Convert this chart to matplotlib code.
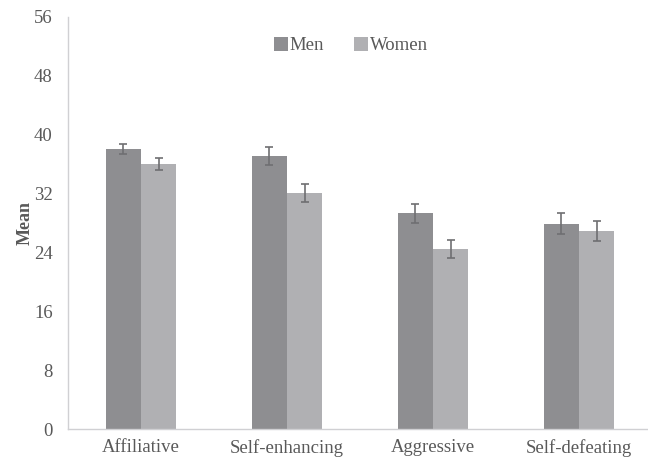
import numpy as np
import matplotlib.pyplot as plt

categories = ["Affiliative", "Self-enhancing", "Aggressive", "Self-defeating"]
men = [38.0, 37.1, 29.3, 27.9]
women = [36.0, 32.1, 24.5, 26.9]
men_err = [0.7, 1.2, 1.3, 1.4]
women_err = [0.8, 1.2, 1.2, 1.3]
yticks = [0, 8, 16, 24, 32, 40, 48, 56]

plt.rcParams['font.family'] = ['Liberation Serif', 'DejaVu Serif']
txt = '#595959'

fig = plt.figure(figsize=(6.48, 4.61), dpi=100)
ax = fig.add_axes([0.105, 0.0694, 0.901, 0.894])

x = np.arange(len(categories))
w = 0.242
ax.bar(x - w/2, men, w, color='#8e8e91', label='Men', zorder=2)
ax.bar(x + w/2, women, w, color='#b0b0b3', label='Women', zorder=2)
ax.errorbar(x - w/2, men, yerr=men_err, fmt='none', ecolor='#6f6f72',
            elinewidth=1.2, capsize=2.7, capthick=1.2, zorder=3)
ax.errorbar(x + w/2, women, yerr=women_err, fmt='none', ecolor='#6f6f72',
            elinewidth=1.2, capsize=2.7, capthick=1.2, zorder=3)

ax.set_xlim(-0.5, 3.5)
ax.set_ylim(0, 56)
ax.set_yticks(yticks)
ax.set_xticks(x)
ax.set_xticklabels(categories)
ax.tick_params(axis='both', length=0, labelsize=13.5, colors=txt)
ax.tick_params(axis='y', pad=11)
ax.tick_params(axis='x', pad=7)
for s in ['top', 'right']:
    ax.spines[s].set_visible(False)
for s in ['left', 'bottom']:
    ax.spines[s].set_color('#d0d0d3')
    ax.spines[s].set_linewidth(1.0)
ax.set_ylabel('Mean', fontsize=13, fontweight='bold', color=txt, labelpad=0)

leg = ax.legend(loc='upper center', bbox_to_anchor=(0.485, 0.992), ncol=2,
                frameon=False, fontsize=13.5, handlelength=0.75, handleheight=0.75,
                handletextpad=0.1, columnspacing=1.6)
for t in leg.get_texts():
    t.set_color(txt)

fig.savefig('out.png', dpi=100)
